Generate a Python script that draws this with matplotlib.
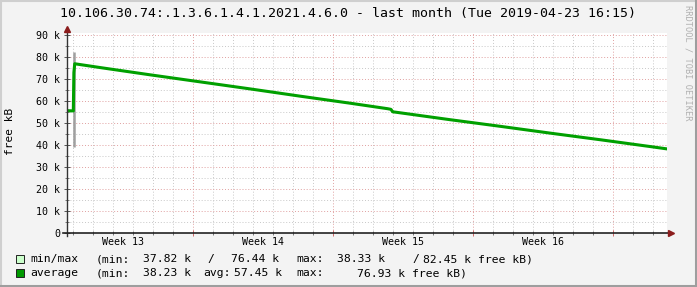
import numpy as np
import pandas as pd
import matplotlib
matplotlib.use("Agg")
import matplotlib.pyplot as plt
import matplotlib.dates as mdates
from matplotlib.patches import Rectangle
from matplotlib.lines import Line2D

plt.rcParams['font.family'] = ['DejaVu Sans Mono']

# data (free kB, average)
avg_times = ["2019-03-24 16:15", "2019-03-24 23:50", "2019-03-25 00:30", "2019-03-25 01:30",
             "2019-03-26 08:00", "2019-03-28 20:00", "2019-03-31 08:00", "2019-04-02 20:00",
             "2019-04-05 08:00", "2019-04-07 20:00", "2019-04-09 17:00", "2019-04-09 21:00",
             "2019-04-09 23:00", "2019-04-10 03:00", "2019-04-12 20:00", "2019-04-15 08:00",
             "2019-04-17 20:00", "2019-04-20 08:00", "2019-04-22 20:00", "2019-04-23 16:15"]
avg_vals = [55600, 55500, 72900, 76930, 75200, 71900, 68700, 65500, 62200, 59000,
            56500, 56200, 55100, 54900, 51500, 48500, 45400, 42400, 39300, 38230]

# min/max spike
spike_time = "2019-03-25 01:00"
spike_min = 39000
spike_max = 82450

start = pd.Timestamp("2019-03-24 16:15")
end = pd.Timestamp("2019-04-23 16:15")
week_labels = ["Week 13", "Week 14", "Week 15", "Week 16"]
week_centers = ["2019-03-27 12:00", "2019-04-03 12:00", "2019-04-10 12:00", "2019-04-17 12:00"]
ytick_vals = [0, 10000, 20000, 30000, 40000, 50000, 60000, 70000, 80000, 90000]
ytick_labels = ["0", "10 k", "20 k", "30 k", "40 k", "50 k", "60 k", "70 k", "80 k", "90 k"]

W, H = 697, 287
fig = plt.figure(figsize=(W / 100, H / 100), dpi=100, facecolor='#f3f3f3')

# frame shading
fig.add_artist(Line2D([0.5 / W, 0.5 / W], [0, 1], color='#cfcfcf', lw=1.5))
fig.add_artist(Line2D([0, 1], [1 - 0.5 / H, 1 - 0.5 / H], color='#cfcfcf', lw=1.5))
fig.add_artist(Line2D([1 - 1.5 / W, 1 - 1.5 / W], [0, 1], color='#9e9e9e', lw=2.2))
fig.add_artist(Line2D([0, 1], [1.5 / H, 1.5 / H], color='#9e9e9e', lw=2.2))

ax = fig.add_axes([67 / W, (H - 233) / H, 600 / W, 200 / H])
ax.set_facecolor('white')
for s in ax.spines.values():
    s.set_visible(False)

t = mdates.date2num(pd.to_datetime(avg_times))
ax.plot([mdates.date2num(pd.Timestamp(spike_time))] * 2, [spike_min, spike_max],
        color='#a0a0a0', lw=1.8, solid_capstyle='butt', zorder=3)
ax.plot(t, avg_vals, color='#00a000', lw=2.2, zorder=4)

ax.set_xlim(mdates.date2num(start), mdates.date2num(end))
ax.set_ylim(0, 90909)

ax.xaxis.set_major_locator(mdates.WeekdayLocator(byweekday=mdates.SU))
ax.xaxis.set_minor_locator(mdates.DayLocator())
ax.xaxis.set_major_formatter(plt.NullFormatter())
ax.set_yticks(ytick_vals)
ax.set_yticklabels(ytick_labels)
ax.set_yticks(np.arange(5000, 90000, 10000), minor=True)

ax.set_axisbelow(True)
ax.grid(which='minor', color='#c8c8c8', linestyle=(0, (1, 2)), lw=0.7)
ax.grid(which='major', color='#e0a0a0', linestyle=(0, (1, 2)), lw=0.7)

ax.tick_params(axis='y', which='major', direction='inout', length=4, width=0.7,
               color='#555555', pad=3, labelsize=7.2)
ax.tick_params(axis='y', which='minor', direction='inout', length=2.5, width=0.7, color='#777777')
ax.tick_params(axis='x', which='major', direction='inout', length=4, width=0.7, color='#cc6666')
ax.tick_params(axis='x', which='minor', direction='inout', length=2.5, width=0.7, color='#777777')

for lab, c in zip(week_labels, week_centers):
    ax.text(mdates.date2num(pd.Timestamp(c)), -0.043, lab, transform=ax.get_xaxis_transform(),
            ha='center', va='center', fontsize=7.2)

# axes with arrows
ax.plot([0, 0], [-0.015, 1.015], transform=ax.transAxes, color='#333333', lw=1.0, clip_on=False, zorder=5)
ax.plot([-0.006, 1.004], [0, 0], transform=ax.transAxes, color='#222222', lw=1.2, clip_on=False, zorder=5)
ax.plot([0], [1.02], transform=ax.transAxes, marker='^', ms=4.5, color='#8b1c1c', clip_on=False, zorder=6)
ax.plot([1.0065], [0], transform=ax.transAxes, marker='>', ms=4.5, color='#8b1c1c', clip_on=False, zorder=6)

# title and labels
fig.text(0.5, 1 - 13.5 / H, "10.106.30.74:.1.3.6.1.4.1.2021.4.6.0 - last month (Tue 2019-04-23 16:15)",
         ha='center', va='center', fontsize=9.5)
fig.text(10 / W, 1 - 131 / H, "free kB", rotation=90, ha='center', va='center', fontsize=8)
fig.text(688 / W, 1 - 5 / H, "RRDTOOL / TOBI OETIKER", rotation=270, ha='center', va='top',
         fontsize=6.2, color='#b0b0b0')

# legend
fig.add_artist(Rectangle((15.5 / W, 1 - 263 / H), 8 / W, 8 / H, facecolor='#ccffcc', edgecolor='#222222', lw=0.7))
fig.add_artist(Rectangle((15.5 / W, 1 - 277 / H), 8 / W, 8 / H, facecolor='#009900', edgecolor='#222222', lw=0.7))

row1 = [(30, "min/max"), (96, "(min:"), (143, "37.82 k"), (207, "/"), (231, "76.44 k"),
        (296, "max:"), (337, "38.33 k"), (412, "/"), (423, "82.45 k free kB)")]
row2 = [(30, "average"), (96, "(min:"), (143, "38.23 k"), (203, "avg:"), (234, "57.45 k"),
        (296, "max:"), (357, "76.93 k free kB)")]
for x, s in row1:
    fig.text(x / W, 1 - 259 / H, s, ha='left', va='center', fontsize=8.2)
for x, s in row2:
    fig.text(x / W, 1 - 273 / H, s, ha='left', va='center', fontsize=8.2)

fig.savefig("out.png", dpi=100, facecolor=fig.get_facecolor())
